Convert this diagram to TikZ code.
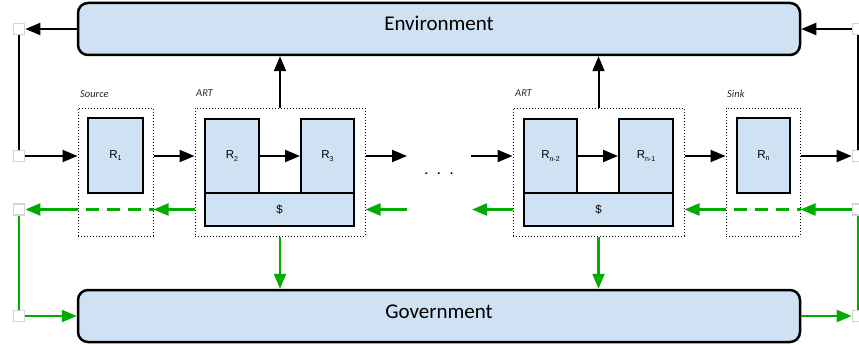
\documentclass[tikz,border=0pt]{standalone}
\usepackage{fontspec}
\setmainfont{Carlito}
\newfontfamily\rfont{Liberation Sans}
\usetikzlibrary{arrows.meta,calc}
\definecolor{boxfill}{RGB}{207,226,243}
\definecolor{mgreen}{RGB}{0,172,0}
\definecolor{sqgrey}{RGB}{212,212,212}
\definecolor{lblgrey}{RGB}{40,40,40}
\newcommand\Rsub[1]{R\raisebox{-2.5pt}{\fontsize{7}{7}\selectfont #1}}
\begin{document}
\begin{tikzpicture}[x=1pt,y=-1pt,
  bigbox/.style={draw=black,line width=2.5pt,fill=boxfill,rounded corners=10pt,
    minimum width=722pt,minimum height=52pt,inner sep=0pt,
    font=\fontsize{21}{21}\selectfont,text height=14pt,text depth=10pt},
  rbox/.style={draw=black,line width=2pt,fill=boxfill,inner sep=0pt,
    minimum height=75pt,font=\rfont\fontsize{11.5}{11.5}\selectfont},
  dbox/.style={draw=black,line width=2pt,fill=boxfill,inner sep=0pt,
    minimum height=33pt,minimum width=149pt,font=\rfont\fontsize{11.5}{11.5}\selectfont},
  grp/.style={draw=black,dotted,line width=1pt,inner sep=0pt,minimum height=128pt},
  sq/.style={draw=sqgrey,fill=white,line width=1.7pt,minimum size=11pt,inner sep=0pt},
  lbl/.style={anchor=base west,inner sep=0pt,text=lblgrey,font=\fontsize{10.5}{10.5}\selectfont\itshape},
  flow/.style={line width=2pt,-{Triangle[length=15pt,width=12pt]}},
  gflow/.style={draw=mgreen,line width=2.2pt,-{Triangle[length=15pt,width=12pt]}},
  gline/.style={draw=mgreen,line width=2pt},
  gdash/.style={draw=mgreen,line width=2.2pt,dash pattern=on 13pt off 8pt,dash phase=13pt},
]
\useasboundingbox (0,0) rectangle (859,345);

% big boxes
\node[bigbox] (env) at (439,29) {Environment};
\node[bigbox] (gov) at (439,316) {Government};

% groups
\node[grp,minimum width=75pt] (src) at (115.5,172) {};
\node[grp,minimum width=170pt] (art1) at (280,172) {};
\node[grp,minimum width=171pt] (art2) at (598.5,172) {};
\node[grp,minimum width=74pt] (sink) at (763,172) {};

\node[lbl] (srclbl) at (80,97) {Source};
\node[lbl] (art1lbl) at (196,96) {ART};
\node[lbl] (art2lbl) at (515,96) {ART};
\node[lbl] (sinklbl) at (727,97) {Sink};

% inner boxes
\node[rbox,minimum width=55pt] (r1) at (115.5,155.5) {\Rsub{1}};
\node[rbox,minimum width=54pt] (r2) at (232,156) {\Rsub{2}};
\node[rbox,minimum width=53pt] (r3) at (327.5,156) {\Rsub{3}};
\node[dbox] (d1) at (279.5,209.5) {\$};
\node[rbox,minimum width=53pt] (rn2) at (550.5,156) {\Rsub{n-2}};
\node[rbox,minimum width=54pt] (rn1) at (646,156) {\Rsub{n-1}};
\node[dbox] (d2) at (598.5,209.5) {\$};
\node[rbox,minimum width=53pt] (rn) at (763.5,155.5) {\Rsub{n}};

% dots
\node[inner sep=0pt,font=\fontsize{16}{16}\selectfont] (dots) at (439,174) {.\hspace{8.5pt}.\hspace{8.5pt}.};

% corner squares
\node[sq] (sqL1) at (19,29) {};
\node[sq] (sqL2) at (19,156) {};
\node[sq] (sqL3) at (19,209.5) {};
\node[sq] (sqL4) at (19,316) {};
\node[sq] (sqR1) at (858,29) {};
\node[sq] (sqR2) at (858,156) {};
\node[sq] (sqR3) at (858,209.5) {};
\node[sq] (sqR4) at (858,316) {};

\coordinate (gapL) at (407,156);
\coordinate (gapR) at (471,156);
\coordinate (ggL) at (407,209.5);
\coordinate (ggR) at (472,209.5);

% black flows
\draw[flow] (env.west) -- (sqL1);
\draw[line width=2pt] (sqL1) -- (sqL2);
\draw[flow] (sqL2) -- (sqL2 -| src.west);
\draw[flow] (src.east |- sqL2) -- (art1.west |- sqL2);
\draw[flow] (r2.east) -- (r3.west);
\draw[flow] (art1.east |- gapL) -- (gapL);
\draw[flow] (gapR) -- (art2.west |- gapR);
\draw[flow] (rn2.east) -- (rn1.west);
\draw[flow] (art2.east |- gapL) -- (sink.west |- gapL);
\draw[flow] (sink.east |- sqR2) -- (sqR2);
\draw[line width=2pt] (sqR2) -- (sqR1);
\draw[flow] (sqR1) -- (env.east);
\draw[flow] (art1.north) -- (art1.north |- env.south);
\draw[flow] (art2.north) -- (art2.north |- env.south);

% green flows
\draw[gflow] (sqR3) -- (sink.east |- sqR3);
\draw[gdash] (sink.west |- sqR3) -- (sink.east |- sqR3);
\draw[gflow] (sink.west |- sqR3) -- (art2.east |- sqR3);
\draw[gflow] (art2.west |- ggR) -- (ggR);
\draw[gflow] (ggL) -- (art1.east |- ggL);
\draw[gflow] (art1.west |- sqL3) -- (src.east |- sqL3);
\draw[gdash] (src.west |- sqL3) -- (src.east |- sqL3);
\draw[gflow] (src.west |- sqL3) -- (sqL3);
\draw[gline] (sqL3) -- (sqL4);
\draw[gflow] (sqL4) -- (gov.west |- sqL4);
\draw[gflow] (gov.east |- sqR4) -- (sqR4);
\draw[gline] (sqR4) -- (sqR3);
\draw[gflow] (art1.south) -- (art1.south |- gov.north);
\draw[gflow] (art2.south) -- (art2.south |- gov.north);
\end{tikzpicture}
\end{document}
